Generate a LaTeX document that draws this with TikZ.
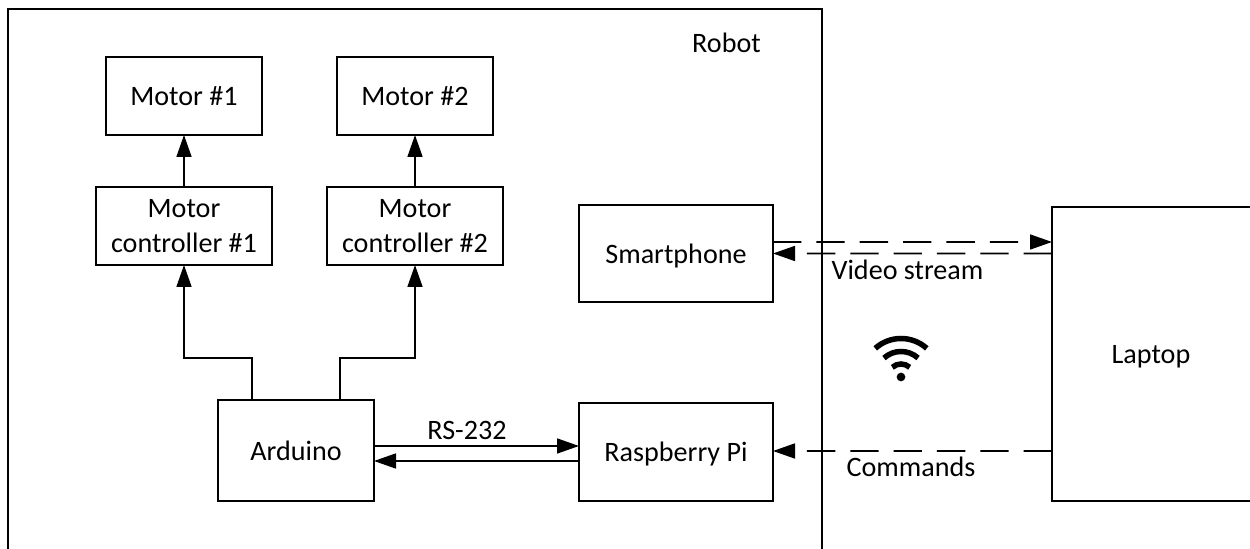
\documentclass[tikz,border=0pt]{standalone}
\usepackage{fontspec}
\setmainfont{Carlito}
\usetikzlibrary{arrows.meta,calc}

\tikzset{
	label/.style={font=\fontsize{16}{19.4}\selectfont,align=center,text depth=0pt},
	block/.style={label,draw,line width=0.95pt,inner sep=0pt,outer sep=0pt},
	motor/.style={block,minimum width=3.12cm,minimum height=1.56cm},
	controller/.style={block,minimum width=3.52cm,minimum height=1.56cm},
	module/.style={block,minimum width=3.88cm},
	frame/.style={label,inner sep=0pt,outer sep=0pt},
	wire/.style={line width=0.95pt,-{Triangle[length=0.44cm,width=0.3cm]}},
	wireless/.style={wire,dash pattern=on 0.567cm off 0.3cm},
	wifi/.style={line width=0.11cm}
}

\begin{document}
\begin{tikzpicture}
	\useasboundingbox (0,0) rectangle (25,10.98);

	\node[frame,minimum width=16.28cm,minimum height=10.8cm] (robot) at (8.30,5.40) {};
	\node[frame,minimum width=3.96cm,minimum height=5.88cm] (laptop) at (23.02,3.90) {Laptop};
	\node[label] (robottext) at (14.53,10.12) {Robot};

	\node[motor] (motor1) at (3.68,9.06) {Motor \#1};
	\node[motor] (motor2) at (8.30,9.06) {Motor \#2};
	\node[controller] (mc1) at (3.68,6.46) {Motor\\controller \#1};
	\node[controller] (mc2) at (8.30,6.46) {Motor\\controller \#2};
	\node[module,minimum height=1.94cm] (phone) at (13.52,5.91) {Smartphone};
	\node[module,minimum height=1.96cm] (rpi) at (13.52,1.94) {Raspberry Pi};
	\node[motor,minimum height=2.02cm] (arduino) at (5.92,1.97) {Arduino};

	\node[label] (rs232) at (9.34,2.38) {RS-232};
	\node[label] (video) at (18.15,5.58) {Video stream};
	\node[label] (commands) at (18.22,1.64) {Commands};

	\draw[line width=0.95pt] (robot.south west) -- (robot.north west) -- (robot.north east) -- (robot.south east);
	\draw[line width=0.95pt] (laptop.south east) -- (laptop.south west) -- (laptop.north west) -- (laptop.north east);

	\draw[wire] (mc1) -- (motor1);
	\draw[wire] (mc2) -- (motor2);

	\draw[wire] ([xshift=-0.88cm]arduino.north) -- ++(0,0.84) -| (mc1.south);
	\draw[wire] ([xshift=0.88cm]arduino.north) -- ++(0,0.84) -| (mc2.south);

	\draw[wire] ([yshift=0.09cm]arduino.east) -- ([yshift=0.12cm]rpi.west);
	\draw[wire] ([yshift=-0.18cm]rpi.west) -- ([yshift=-0.21cm]arduino.east);

	\draw[wireless] ([yshift=0.23cm]phone.east) -- ([yshift=2.24cm]laptop.west);
	\draw[wireless] ([yshift=2.01cm]laptop.west) -- (phone.east);
	\draw[wireless] ([yshift=-1.94cm]laptop.west) -- ([yshift=0.02cm]rpi.east);

	% wifi sign
	\coordinate (spot) at (18.02,3.44);
	\fill (spot) circle (0.087);
	\draw[wifi] ($(spot)+(132:0.26)$) arc (132:48:0.26);
	\draw[wifi] ($(spot)+(132:0.51)$) arc (132:48:0.51);
	\draw[wifi] ($(spot)+(132:0.77)$) arc (132:48:0.77);
\end{tikzpicture}
\end{document}
